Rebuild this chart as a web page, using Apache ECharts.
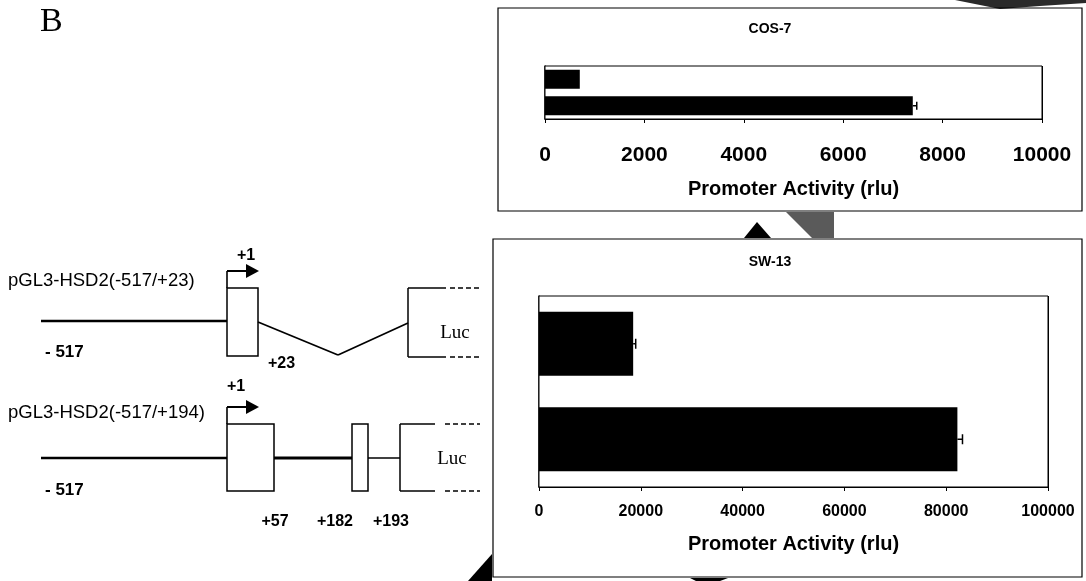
<!DOCTYPE html>
<html>
<head>
<meta charset="utf-8">
<script src="https://cdn.jsdelivr.net/npm/echarts@6/dist/echarts.min.js"></script>
<style>
  html, body { margin: 0; padding: 0; background: #fff; }
  #chart { width: 1086px; height: 581px; }
</style>
</head>
<body>
<div id="chart"></div>
<script>
// Promoter constructs (top to bottom in each panel)
const constructs = ['pGL3-HSD2(-517/+23)', 'pGL3-HSD2(-517/+194)'];

// Luciferase activity (rlu) and error (SE) per cell line
const cos7Values = [700, 7400];
const cos7Errors = [0, 80];
const sw13Values = [18500, 82200];
const sw13Errors = [500, 1000];

// Axis ticks
const cos7Ticks = { min: 0, max: 10000, interval: 2000 };
const sw13Ticks = { min: 0, max: 100000, interval: 20000 };

// Panel titles and axis caption
const panelTitles = ['COS-7', 'SW-13'];
const axisCaption = 'Promoter Activity (rlu)';

// Construct map labels
const startLabel = '- 517';
const tssLabel = '+1';
const construct1Ends = ['+23'];
const construct2Sites = ['+57', '+182', '+193'];
const reporterLabel = 'Luc';
const figureLetter = 'B';

const SANS = '"Liberation Sans", Arial, sans-serif';
const SERIF = '"Liberation Serif", "Times New Roman", serif';

const chart = echarts.init(document.getElementById('chart'), null, { renderer: 'canvas' });

function errorSeries(values, errors, gridIdx, capHalf) {
  return {
    type: 'custom',
    xAxisIndex: gridIdx,
    yAxisIndex: gridIdx,
    z: 5,
    silent: true,
    data: values.map((v, i) => [v, errors[i], i]),
    encode: { x: 0, y: 2 },
    renderItem: function (params, api) {
      const v = api.value(0), e = api.value(1), c = api.value(2);
      if (!e) return null;
      const p0 = api.coord([v, c]);
      const p1 = api.coord([v + e, c]);
      const st = { stroke: '#000', lineWidth: 1.5 };
      return {
        type: 'group',
        children: [
          { type: 'line', shape: { x1: p0[0], y1: p0[1], x2: p1[0], y2: p1[1] }, style: st },
          { type: 'line', shape: { x1: p1[0], y1: p1[1] - capHalf, x2: p1[0], y2: p1[1] + capHalf }, style: st }
        ]
      };
    }
  };
}

function valueAxis(gridIdx, ticks, labelSize, labelMargin, nameGap) {
  return {
    type: 'value',
    gridIndex: gridIdx,
    min: ticks.min, max: ticks.max, interval: ticks.interval,
    name: axisCaption,
    nameLocation: 'middle',
    nameGap: nameGap,
    nameTextStyle: { fontFamily: SANS, fontWeight: 'bold', fontSize: 20, color: '#000', verticalAlign: 'top' },
    axisLine: { show: true, lineStyle: { color: '#000', width: 1 } },
    axisTick: { show: true, length: 4, lineStyle: { color: '#000', width: 1 } },
    axisLabel: {
      fontFamily: SANS, fontWeight: 'bold', fontSize: labelSize, color: '#000', margin: labelMargin,
      formatter: (v) => String(v)
    },
    splitLine: { show: true, lineStyle: { color: '#000', width: 1 } }
  };
}

function categoryAxis(gridIdx) {
  return {
    type: 'category',
    gridIndex: gridIdx,
    data: constructs,
    inverse: true,
    axisLine: { show: true, lineStyle: { color: '#000', width: 1.5 } },
    axisTick: { show: false },
    axisLabel: { show: false }
  };
}

// Construct map drawn as plain shapes
const ink = '#000';
const lineStyle = (w) => ({ stroke: ink, lineWidth: w, fill: null });
function seg(x1, y1, x2, y2, w, dash) {
  const s = lineStyle(w);
  if (dash) s.lineDash = dash;
  return { type: 'line', shape: { x1, y1, x2, y2 }, style: s, silent: true };
}
function box(x, y, w, h, lw) {
  return { type: 'rect', shape: { x, y, width: w, height: h }, style: { stroke: ink, lineWidth: lw, fill: '#fff' }, silent: true };
}
function label(x, y, text, size, opts) {
  return {
    type: 'text', x, y, silent: true,
    style: Object.assign({ text, fontFamily: SANS, fontSize: size, fill: ink, textAlign: 'left', textVerticalAlign: 'middle' }, opts || {})
  };
}
function tssArrow(x, yBase, yTop, xEnd) {
  return [
    seg(x, yBase, x, yTop, 1.6),
    seg(x, yTop, xEnd - 10, yTop, 2),
    { type: 'polygon', shape: { points: [[xEnd - 13, yTop - 7], [xEnd, yTop], [xEnd - 13, yTop + 7]] }, style: { fill: ink }, silent: true }
  ];
}

const graphics = [
  // stray arrow fragments behind the panels
  { type: 'polygon', shape: { points: [[955, 0], [1086, 0], [1086, 3], [1040, 6], [1000, 9]] }, style: { fill: '#2a2a2a' }, silent: true, z: 0 },
  { type: 'polygon', shape: { points: [[744, 238], [757, 222], [771, 238]] }, style: { fill: '#000' }, silent: true, z: 0 },
  { type: 'polygon', shape: { points: [[786, 212], [834, 212], [834, 238], [812, 238]] }, style: { fill: '#5a5a5a' }, silent: true, z: 0 },
  { type: 'polygon', shape: { points: [[492, 554], [492, 581], [468, 581]] }, style: { fill: '#000' }, silent: true, z: 0 },
  { type: 'polygon', shape: { points: [[690, 578], [728, 578], [720, 581], [696, 581]] }, style: { fill: '#000' }, silent: true, z: 0 },

  // panel frames
  { type: 'rect', shape: { x: 498, y: 8, width: 584, height: 203 }, style: { stroke: ink, lineWidth: 1.2, fill: 'rgba(0,0,0,0)' }, silent: true, z: 1 },
  { type: 'rect', shape: { x: 493, y: 239, width: 589, height: 338 }, style: { stroke: ink, lineWidth: 1.2, fill: 'rgba(0,0,0,0)' }, silent: true, z: 1 },

  // panel titles
  label(770, 29, panelTitles[0], 14, { fontWeight: 'bold', textAlign: 'center' }),
  label(770, 262, panelTitles[1], 14, { fontWeight: 'bold', textAlign: 'center' }),

  // figure letter
  label(40, 22, figureLetter, 34, { fontFamily: SERIF }),

  // construct 1
  label(8, 281, constructs[0], 18.5),
  label(237, 256, tssLabel, 16, { fontWeight: 'bold' }),
  ...tssArrow(227, 288, 271, 259),
  seg(41, 321, 227, 321, 2.5),
  box(227, 288, 31, 68, 1.5),
  seg(258, 322, 338, 355, 1.8),
  seg(338, 355, 408, 323, 1.8),
  seg(408, 288, 408, 357, 1.5),
  seg(408, 288, 446, 288, 1.5),
  seg(408, 357, 446, 357, 1.5),
  seg(450, 288, 480, 288, 1.5, [5, 3]),
  seg(450, 357, 480, 357, 1.5, [5, 3]),
  { type: 'text', x: 455, y: 333, silent: true, style: { text: reporterLabel, fontFamily: SERIF, fontSize: 19, fill: ink, textAlign: 'center', textVerticalAlign: 'middle' } },
  label(45, 352, startLabel, 17, { fontWeight: 'bold' }),
  label(268, 364, construct1Ends[0], 16, { fontWeight: 'bold' }),

  // construct 2
  label(8, 413, constructs[1], 18.5),
  label(227, 387, tssLabel, 16, { fontWeight: 'bold' }),
  ...tssArrow(227, 424, 407, 259),
  seg(41, 458, 227, 458, 2.5),
  box(227, 424, 47, 67, 1.5),
  seg(274, 458, 352, 458, 3),
  box(352, 424, 16, 67, 1.5),
  seg(368, 458, 400, 458, 1.5),
  seg(400, 424, 400, 491, 1.5),
  seg(400, 424, 435, 424, 1.5),
  seg(400, 491, 435, 491, 1.5),
  seg(445, 424, 480, 424, 1.5, [5, 3]),
  seg(445, 491, 480, 491, 1.5, [5, 3]),
  { type: 'text', x: 452, y: 459, silent: true, style: { text: reporterLabel, fontFamily: SERIF, fontSize: 19, fill: ink, textAlign: 'center', textVerticalAlign: 'middle' } },
  label(45, 490, startLabel, 17, { fontWeight: 'bold' }),
  label(275, 522, construct2Sites[0], 16, { fontWeight: 'bold', textAlign: 'center' }),
  label(335, 522, construct2Sites[1], 16, { fontWeight: 'bold', textAlign: 'center' }),
  label(391, 522, construct2Sites[2], 16, { fontWeight: 'bold', textAlign: 'center' })
];

const option = {
  animation: false,
  backgroundColor: '#fff',
  grid: [
    { left: 545, right: 1086 - 1042, top: 66, height: 53, show: true, borderColor: '#000', borderWidth: 1, backgroundColor: '#fff', z: 2 },
    { left: 539, right: 1086 - 1048, top: 296, height: 191, show: true, borderColor: '#000', borderWidth: 1, backgroundColor: '#fff', z: 2 }
  ],
  xAxis: [
    valueAxis(0, cos7Ticks, 21, 26, 60),
    valueAxis(1, sw13Ticks, 16, 17, 47)
  ],
  yAxis: [categoryAxis(0), categoryAxis(1)],
  series: [
    { type: 'bar', xAxisIndex: 0, yAxisIndex: 0, data: cos7Values, barWidth: 19, itemStyle: { color: '#000' }, z: 3 },
    errorSeries(cos7Values, cos7Errors, 0, 4),
    { type: 'bar', xAxisIndex: 1, yAxisIndex: 1, data: sw13Values, barWidth: 64, itemStyle: { color: '#000' }, z: 3 },
    errorSeries(sw13Values, sw13Errors, 1, 5)
  ],
  graphic: graphics
};

chart.setOption(option);
</script>
</body>
</html>
